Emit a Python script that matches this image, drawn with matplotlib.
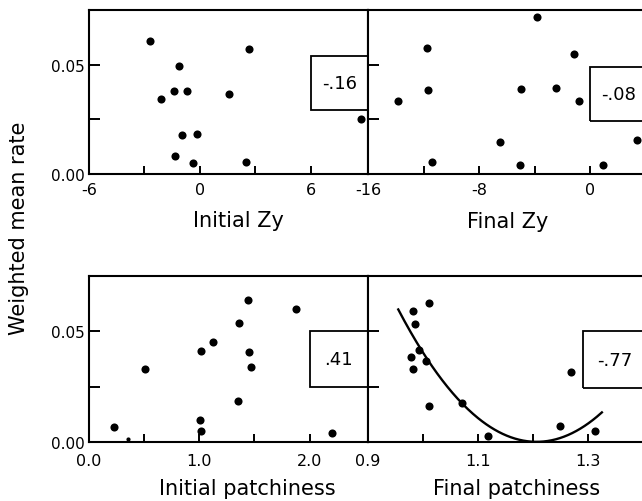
import numpy as np
import matplotlib
matplotlib.use("Agg")
import matplotlib.pyplot as plt
from matplotlib.patches import Rectangle
from matplotlib.ticker import FixedLocator

# ---------------- data ----------------
init_zy_x = [-2.70, 2.66, -1.12, -1.39, -0.72, -2.11, 1.58, 8.74, -0.99, -0.16, -1.34, -0.39, 2.49]
init_zy_y = [0.0608, 0.0573, 0.0495, 0.0380, 0.0380, 0.0344, 0.0365, 0.0252, 0.0180, 0.0185, 0.0081, 0.0050, 0.0055]

final_zy_x = [-3.84, -11.72, -1.18, -13.86, -11.65, -4.95, -2.45, -0.81, -6.46, 3.39, -11.41, -5.02, 0.91]
final_zy_y = [0.0718, 0.0578, 0.0548, 0.0332, 0.0386, 0.0387, 0.0393, 0.0333, 0.0147, 0.0155, 0.0056, 0.0042, 0.0042]

init_patch_x = [0.23, 0.51, 1.02, 1.12, 1.36, 1.44, 1.88, 1.45, 1.47, 1.35, 1.01, 1.02, 2.20]
init_patch_y = [0.0070, 0.0332, 0.0410, 0.0450, 0.0536, 0.0640, 0.0600, 0.0408, 0.0340, 0.0186, 0.0101, 0.0050, 0.0041]
init_patch_small_x = [0.35]
init_patch_small_y = [0.0014]

final_patch_x = [0.981, 1.010, 0.985, 0.993, 0.979, 1.005, 0.982, 1.010, 1.071, 1.118, 1.269, 1.249, 1.312]
final_patch_y = [0.0594, 0.0626, 0.0533, 0.0414, 0.0383, 0.0368, 0.0329, 0.0164, 0.0177, 0.0027, 0.0315, 0.0071, 0.0051]

# points in the "Final patchiness" panel
curve_x = [0.955, 0.9945, 1.043, 1.104, 1.164, 1.207, 1.261, 1.325]
curve_y = [0.0608, 0.0415, 0.0256, 0.0090, 0.0021, 0.0006, 0.0036, 0.0127]

r_values = ["-.16", "-.08", ".41", "-.77"]
x_labels = ["Initial Zy", "Final Zy", "Initial patchiness", "Final patchiness"]
y_label = "Weighted mean rate"
y_tick_labels = ["0.00", "0.05"]

# ---------------- figure ----------------
plt.rcParams['font.family'] = ['DejaVu Sans']
W, H = 642, 502
fig = plt.figure(figsize=(W / 100, H / 100), dpi=100)

def ax_at(left, top, right, bottom):
    return fig.add_axes([left / W, 1 - bottom / H, (right - left) / W, (bottom - top) / H])

ax1 = ax_at(89, 11, 368, 175)
ax2 = ax_at(368, 11, 647, 175)
ax3 = ax_at(89, 277, 368, 443)
ax4 = ax_at(368, 277, 647, 443)

panels = [
    (ax1, init_zy_x, init_zy_y, (-6, 9.1), [-6, 0, 6], ["-6", "0", "6"], [-3, 3], 6.0, (0.0293, 0.054)),
    (ax2, final_zy_x, final_zy_y, (-16, 4.1), [-16, -8, 0], ["-16", "-8", "0"], [-12, -4], 0.0, (0.0243, 0.049)),
    (ax3, init_patch_x, init_patch_y, (0, 2.53), [0.0, 1.0, 2.0], ["0.0", "1.0", "2.0"], [0.5, 1.5], 2.0, (0.025, 0.050)),
    (ax4, final_patch_x, final_patch_y, (0.9, 1.407), [0.9, 1.1, 1.3], ["0.9", "1.1", "1.3"], [1.0, 1.2], 1.29, (0.0245, 0.050)),
]

# baseline positions (pixels from top) of the axis titles
label_pos = [(238, 227), (508, 228), (247, 495), (517, 495)]
tick_pad = [6, 6, 8, 8]

for i, (ax, xs, ys, xl, xt, xtl, xmin, box_x0, (by0, by1)) in enumerate(panels):
    ax.scatter(xs, ys, s=34, color='black', zorder=3, clip_on=False, linewidths=0)
    ax.set_xticks(xt)
    ax.set_xticklabels(xtl)
    ax.xaxis.set_minor_locator(FixedLocator(xmin))
    ax.set_yticks([0.0, 0.05])
    ax.yaxis.set_minor_locator(FixedLocator([0.025]))
    ax.set_xlim(*xl)
    ax.set_ylim(0, 0.075)
    ax.tick_params(axis='x', which='both', direction='in', length=5.5, width=1.4,
                   pad=tick_pad[i], labelsize=11.5, top=False)
    ax.tick_params(axis='y', which='both', direction='in', length=8, width=1.4, pad=3,
                   labelsize=11, right=False)
    if i in (1, 3):
        ax.set_yticklabels([])
    else:
        ax.set_yticklabels(y_tick_labels)
    for sp in ax.spines.values():
        sp.set_linewidth(1.5)
    # r-value box spanning to the right edge of the panel
    x1 = xl[1]
    ax.add_patch(Rectangle((box_x0, by0), x1 - box_x0, by1 - by0, fill=False,
                           edgecolor='black', linewidth=1.3, zorder=2))
    ax.text((box_x0 + x1) / 2, (by0 + by1) / 2, r_values[i], ha='center', va='center',
            fontsize=13)
    lx, ly = label_pos[i]
    fig.text(lx / W, 1 - ly / H, x_labels[i], ha='center', va='baseline', fontsize=15)

ax3.scatter(init_patch_small_x, init_patch_small_y, s=4, color='black', zorder=3)

# fitted quadratic curve in the last panel
coef = np.polyfit(curve_x, curve_y, 2)
cx = np.linspace(min(curve_x), max(curve_x), 200)
ax4.plot(cx, np.polyval(coef, cx), color='black', linewidth=1.7, zorder=2)

fig.text(19 / W, 1 - 228 / H, y_label, rotation=90, ha='center', va='center', fontsize=15)

fig.savefig("out.png", dpi=100)
